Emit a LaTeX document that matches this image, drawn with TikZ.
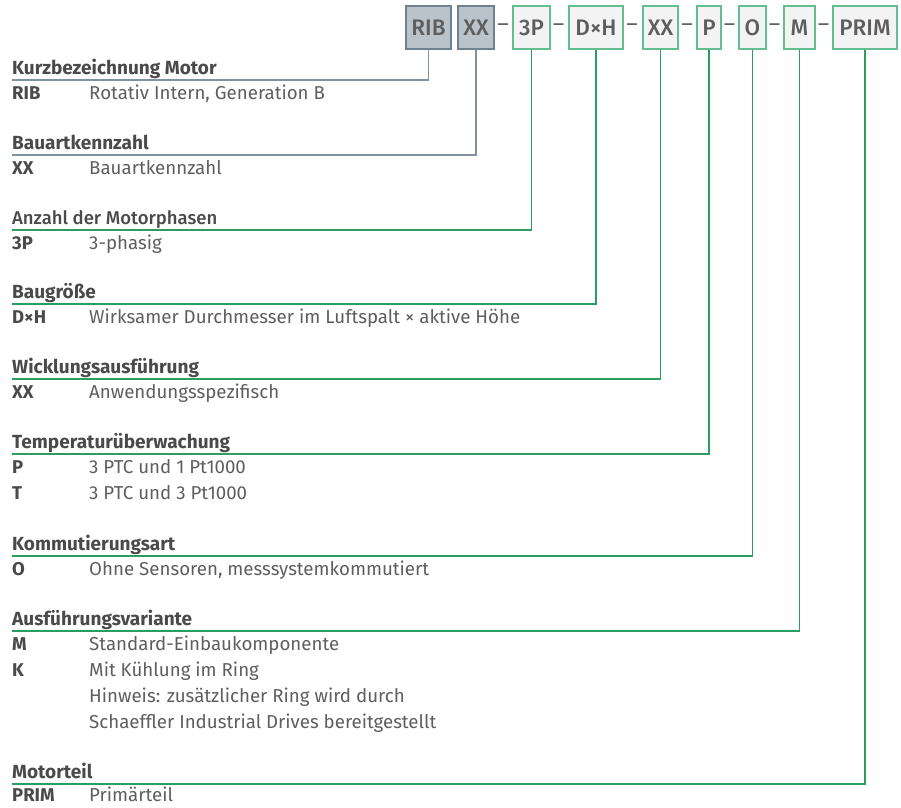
\documentclass[tikz,border=0pt]{standalone}
\usepackage{fontspec}
\setmainfont{Fira Sans}
\newfontfamily\firamed{Fira Sans Medium}
\definecolor{txt}{HTML}{5E5E5E}
\definecolor{head}{HTML}{4A4A4A}
\definecolor{grayfill}{HTML}{B9C3C9}
\definecolor{grayedge}{HTML}{6F8290}
\definecolor{grayline}{HTML}{7F929E}
\definecolor{greenedge}{HTML}{62BE8E}
\definecolor{greenline}{HTML}{2A9D63}
\definecolor{boxfill}{HTML}{F3F3F3}
\begin{document}
\begin{tikzpicture}[x=1pt,y=-1pt,
  codebox/.style={draw, line width=1.3pt, inner sep=0pt, minimum height=43pt,
    font=\firamed\fontsize{22.5}{22.5}\selectfont, text=txt},
  graybox/.style={codebox, fill=grayfill, draw=grayedge},
  greenbox/.style={codebox, fill=boxfill, draw=greenedge},
  sep/.style={inner sep=0pt, font=\fontsize{22}{22}\selectfont, text=txt},
  heading/.style={anchor=base west, inner sep=0pt, text=head,
    font=\fontsize{19}{19}\selectfont\bfseries},
  headlight/.style={anchor=base west, inner sep=0pt, text=head,
    font=\firamed\fontsize{18.5}{18.5}\selectfont},
  codetxt/.style={anchor=base west, inner sep=0pt, text=head,
    font=\fontsize{18.5}{18.5}\selectfont\bfseries},
  desc/.style={anchor=base west, inner sep=0pt, text=txt,
    font=\fontsize{18.7}{18.7}\selectfont},
  grayconn/.style={draw=grayline, line width=1.1pt},
  greenconn/.style={draw=greenline, line width=1.1pt}]
\useasboundingbox (0,0) rectangle (901,807);

% type code boxes
\node[graybox, minimum width=45pt] (bRIB) at (428.5,27.5) {RIB};
\node[graybox, minimum width=36pt] (bXX) at (476,27.5) {XX};
\node[greenbox, minimum width=37pt] (b3P) at (531.5,27.5) {3P};
\node[greenbox, minimum width=54pt] (bDH) at (596,27.5) {D×H};
\node[greenbox, minimum width=35pt] (bWK) at (660.5,27.5) {XX};
\node[greenbox, minimum width=24pt] (bP) at (709,27.5) {P};
\node[greenbox, minimum width=27pt] (bO) at (752.5,27.5) {O};
\node[greenbox, minimum width=31pt] (bM) at (799.5,27.5) {M};
\node[greenbox, minimum width=64pt] (bPRIM) at (865,27.5) {PRIM};

% separators
\node[sep] (s1) at (503,28) {–};
\node[sep] (s2) at (558.5,28) {–};
\node[sep] (s3) at (632,28) {–};
\node[sep] (s4) at (687,28) {–};
\node[sep] (s5) at (729.5,28) {–};
\node[sep] (s6) at (774.5,28) {–};
\node[sep] (s7) at (823.5,28) {–};

% left ends of the heading rules
\coordinate (l1) at (12,80);
\coordinate (l2) at (12,155);
\coordinate (l3) at (12,230);
\coordinate (l4) at (12,304);
\coordinate (l5) at (12,379);
\coordinate (l6) at (12,454);
\coordinate (l7) at (12,556);
\coordinate (l8) at (12,631);
\coordinate (l9) at (12,784);

% connectors
\draw[grayconn] (bRIB.south) |- (l1);
\draw[grayconn] (bXX.south) |- (l2);
\draw[greenconn] (b3P.south) |- (l3);
\draw[greenconn] (bDH.south) |- (l4);
\draw[greenconn] (bWK.south) |- (l5);
\draw[greenconn] (bP.south) |- (l6);
\draw[greenconn] (bO.south) |- (l7);
\draw[greenconn] (bM.south) |- (l8);
\draw[greenconn] (bPRIM.south) |- (l9);

% headings
\node[heading] (h1) at (12,74) {Kurzbezeichnung Motor};
\node[heading] (h2) at (12,149) {Bauartkennzahl};
\node[headlight] (h3) at (12,224) {Anzahl der Motorphasen};
\node[heading] (h4) at (12,298) {Baugröße};
\node[heading] (h5) at (12,373) {Wicklungsausführung};
\node[heading] (h6) at (12,448) {Temperaturüberwachung};
\node[heading] (h7) at (12,550) {Kommutierungsart};
\node[heading] (h8) at (12,625) {Ausführungsvariante};
\node[heading] (h9) at (12,778) {Motorteil};

% entries
\node[codetxt] (c1) at (12,99) {RIB};
\node[desc] (d1) at (89,99) {Rotativ Intern, Generation B};
\node[codetxt] (c2) at (12,174) {XX};
\node[desc] (d2) at (89,174) {Bauartkennzahl};
\node[codetxt] (c3) at (12,249) {3P};
\node[desc] (d3) at (89,249) {3-phasig};
\node[codetxt] (c4) at (12,323) {D×H};
\node[desc] (d4) at (89,323) {Wirksamer Durchmesser im Luftspalt × aktive Höhe};
\node[codetxt] (c5) at (12,398) {XX};
\node[desc] (d5) at (89,398) {Anwendungsspezifisch};
\node[codetxt] (c6a) at (12,473) {P};
\node[desc] (d6a) at (89,473) {3 PTC und 1 Pt1000};
\node[codetxt] (c6b) at (12,499) {T};
\node[desc] (d6b) at (89,499) {3 PTC und 3 Pt1000};
\node[codetxt] (c7) at (12,575) {O};
\node[desc] (d7) at (89,575) {Ohne Sensoren, messsystemkommutiert};
\node[codetxt] (c8a) at (12,650) {M};
\node[desc] (d8a) at (89,650) {Standard-Einbaukomponente};
\node[codetxt] (c8b) at (12,676) {K};
\node[desc] (d8b) at (89,676) {Mit Kühlung im Ring};
\node[desc] (d8c) at (89,702) {Hinweis: zusätzlicher Ring wird durch};
\node[desc] (d8d) at (89,728) {Schaeffler Industrial Drives bereitgestellt};
\node[codetxt] (c9) at (12,801) {PRIM};
\node[desc] (d9) at (89,801) {Primärteil};
\end{tikzpicture}
\end{document}
